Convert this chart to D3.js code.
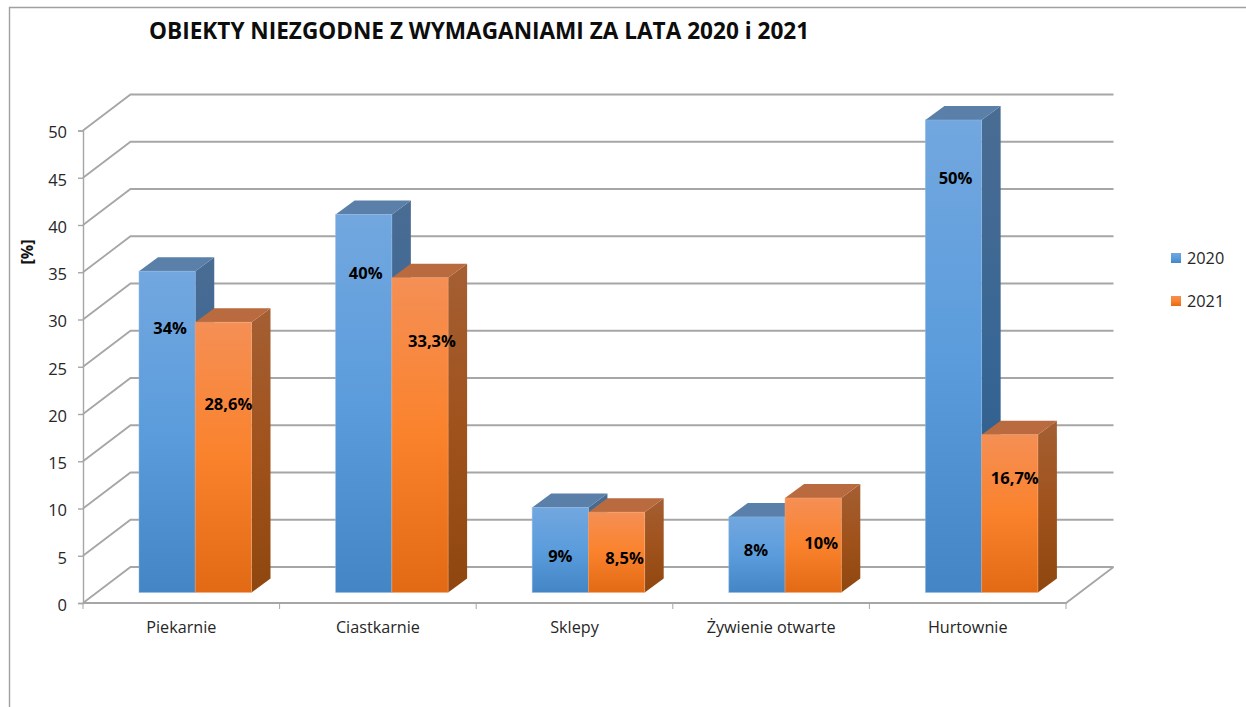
<!DOCTYPE html>
<html>
<head>
<meta charset="utf-8">
<script src="https://cdn.jsdelivr.net/npm/d3@7"></script>
<style>
body { margin: 0; background: #fff; }
svg { display: block; font-family: "Open Sans", sans-serif; }
</style>
</head>
<body>
<div id="chart"></div>
<script>
const categories = ["Piekarnie", "Ciastkarnie", "Sklepy", "Żywienie otwarte", "Hurtownie"];
const seriesNames = ["2020", "2021"];
const values2020 = [34, 40, 9, 8, 50];
const values2021 = [28.6, 33.3, 8.5, 10, 16.7];
const labels2020 = ["34%", "40%", "9%", "8%", "50%"];
const labels2021 = ["28,6%", "33,3%", "8,5%", "10%", "16,7%"];
const yTicks = [0, 5, 10, 15, 20, 25, 30, 35, 40, 45, 50];

const width = 1246, height = 707;
const depth = {x: 47.5, y: -36};      // floor depth
const barDepth = {x: 19, y: -14};
const barFloor = -10.5;               // bars stand a little behind the front edge

// labels were moved by hand in the original, offsets from the middle of each bar
const labelShift = {
  "2020": [[3, -104], [2, -131], [0, 6], [-1, -5], [2, -178]],
  "2021": [[5, -53], [12, -94], [8, 6], [8, -2], [5, -36]]
};

const svg = d3.select("#chart").append("svg")
    .attr("width", width)
    .attr("height", height);

const x = d3.scaleBand().domain(categories).range([83, 1066]);
const y = d3.scaleLinear().domain([0, 50]).range([603, 130.5]);
const inner = d3.scaleBand().domain(seriesNames).range([56, 168.5]);

const defs = svg.append("defs");
function gradient(id, stops) {
  const g = defs.append("linearGradient").attr("id", id)
      .attr("x1", 0).attr("y1", 0).attr("x2", 0).attr("y2", 1);
  stops.forEach(s => g.append("stop").attr("offset", s[0]).attr("stop-color", s[1]));
}
gradient("front2020", [[0, "#72a7df"], [0.5, "#5b9cdc"], [1, "#4485c6"]]);
gradient("side2020", [[0, "#4a6c93"], [0.5, "#386694"], [1, "#2c5a88"]]);
gradient("front2021", [[0, "#f58f55"], [0.5, "#fa822c"], [1, "#e36a15"]]);
gradient("side2021", [[0, "#a45f33"], [0.5, "#a0521c"], [1, "#8f470f"]]);
const topColors = {"2020": "#5a80aa", "2021": "#b96a3e"};
const edgeColors = {"2020": "#8fb9e6", "2021": "#f9a877"};

// outer frame
svg.append("path")
    .attr("d", "M9.5,707V7.5H1246")
    .attr("fill", "none")
    .attr("stroke", "#a0a0a0")
    .attr("stroke-width", 1.4);

// back wall grid and left wall
const grid = svg.append("g").attr("fill", "none").attr("stroke", "#a6a6a6").attr("stroke-width", 1.8);
yTicks.forEach(t => {
  grid.append("path")
      .attr("d", d3.line()([
        [83, y(t)],
        [83 + depth.x, y(t) + depth.y],
        [1066 + depth.x, y(t) + depth.y]
      ]));
});
grid.append("path")
    .attr("d", d3.line()([
      [83, y(0)], [1066, y(0)], [1066 + depth.x, y(0) + depth.y]
    ]));

// axes
const yAxis = svg.append("g")
    .attr("transform", "translate(83,0)")
    .call(d3.axisLeft(y).tickValues(yTicks).tickSize(5).tickPadding(11));
const xTickPos = categories.map(c => x(c)).concat([1066]);
svg.append("g").selectAll("line").data(xTickPos).enter().append("line")
    .attr("x1", d => d).attr("x2", d => d)
    .attr("y1", y(0)).attr("y2", y(0) + 6)
    .attr("stroke", "#a6a6a6");
yAxis.selectAll("path,line").attr("stroke", "#a6a6a6").attr("stroke-width", 1.4);
yAxis.selectAll("text")
    .attr("font-size", 16.5)
    .attr("fill", "#262626")
    .attr("font-family", "Open Sans")
    .attr("dy", "0.45em");

svg.append("g").selectAll("text").data(categories).enter().append("text")
    .attr("x", d => x(d) + x.bandwidth() / 2)
    .attr("y", 633)
    .attr("text-anchor", "middle")
    .attr("font-size", 16.2)
    .attr("fill", "#262626")
    .text(d => d);

// y axis title
svg.append("text")
    .attr("transform", "translate(33,252) rotate(-90)")
    .attr("text-anchor", "middle")
    .attr("font-size", 16)
    .attr("font-weight", 700)
    .attr("fill", "#111")
    .text("[%]");

// bars
const bars = svg.append("g");
function drawBars(name, vals) {
  const g = bars.append("g");
  categories.forEach((c, i) => {
    const x0 = x(c) + inner(name), x1 = x0 + inner.bandwidth();
    const yb = y(0) + barFloor, yt = y(vals[i]) + barFloor;
    const dx = barDepth.x, dy = barDepth.y;
    g.append("path")
        .attr("d", d3.line()([[x1, yb], [x1 + dx, yb + dy], [x1 + dx, yt + dy], [x1, yt]]) + "Z")
        .attr("fill", "url(#side" + name + ")");
    g.append("path")
        .attr("d", d3.line()([[x0, yt], [x0 + dx, yt + dy], [x1 + dx, yt + dy], [x1, yt]]) + "Z")
        .attr("fill", topColors[name]);
    g.append("rect")
        .attr("x", x0).attr("y", yt)
        .attr("width", x1 - x0).attr("height", yb - yt)
        .attr("fill", "url(#front" + name + ")")
        .attr("stroke", edgeColors[name])
        .attr("stroke-opacity", 0.6)
        .attr("stroke-width", 0.8);
  });
}
drawBars("2020", values2020);
drawBars("2021", values2021);

function drawLabels(name, vals, labels) {
  bars.append("g").selectAll("text").data(categories).enter().append("text")
      .attr("x", (d, i) => x(d) + inner(name) + inner.bandwidth() / 2 + labelShift[name][i][0])
      .attr("y", (d, i) => (y(vals[i]) + y(0)) / 2 + barFloor + labelShift[name][i][1] + 6)
      .attr("text-anchor", "middle")
      .attr("font-size", 16.5)
      .attr("font-weight", 700)
      .attr("fill", "#000")
      .text((d, i) => labels[i]);
}
drawLabels("2020", values2020, labels2020);
drawLabels("2021", values2021, labels2021);

// legend
const legend = svg.append("g");
seriesNames.forEach((s, i) => {
  const ly = 258 + i * 43;
  legend.append("rect")
      .attr("x", 1171).attr("y", ly - 5)
      .attr("width", 10).attr("height", 10)
      .attr("fill", "url(#front" + s + ")");
  legend.append("text")
      .attr("x", 1187).attr("y", ly + 6)
      .attr("font-size", 16.3)
      .attr("fill", "#262626")
      .text(s);
});

// title
svg.append("text")
    .attr("x", 149).attr("y", 38.5)
    .attr("font-size", 22.6)
    .attr("font-weight", 700)
    .attr("fill", "#0d0d0d")
    .text("OBIEKTY NIEZGODNE Z WYMAGANIAMI ZA LATA 2020 i 2021");
</script>
</body>
</html>
